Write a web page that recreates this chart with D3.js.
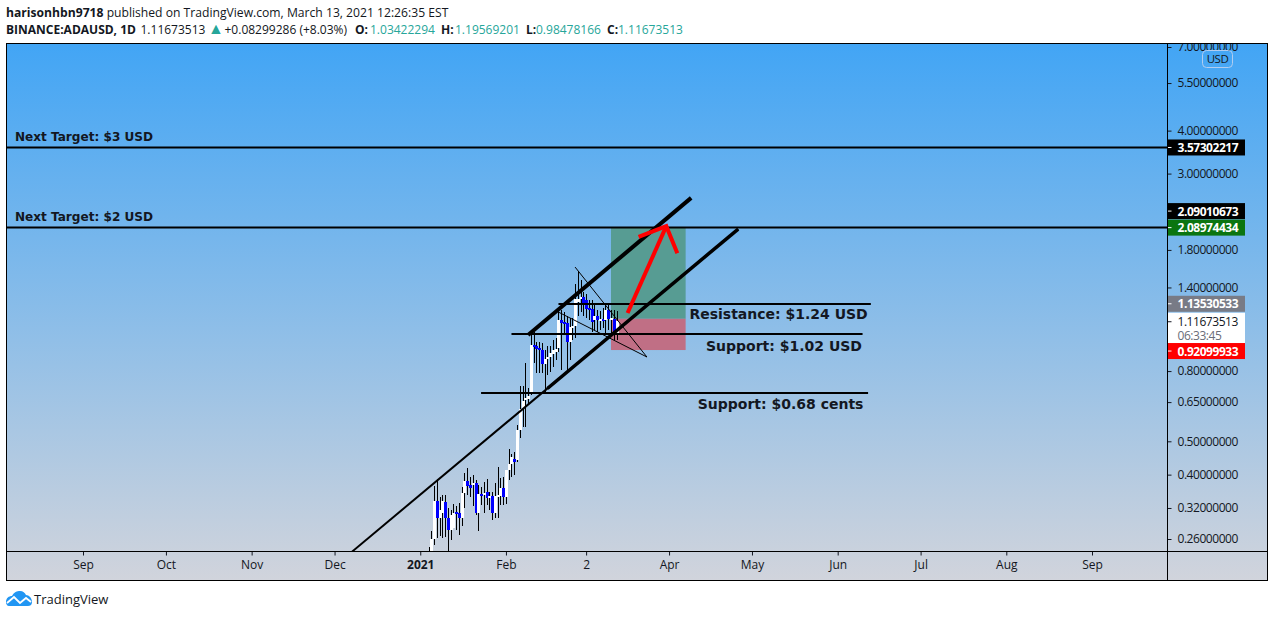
<!DOCTYPE html>
<html>
<head>
<title>ADAUSD</title>
<style>
body { margin: 0; background: #fff; font-family: 'Open Sans', sans-serif; }
svg { display: block; }
.tick text { font-family: 'Open Sans', sans-serif; font-size: 12px; fill: #131722; }
.price, .price .tick text { letter-spacing: -0.45px; }
.note { font-family: 'DejaVu Sans', sans-serif; font-weight: bold; fill: #131722; }
</style>
</head>
<body>
<svg id="chart" width="1274" height="617"></svg>
<script src="https://d3js.org/d3.v7.min.js"></script>
<script>
// Daily candles, first one is 4 Jan 2021
const firstBar = "2021-01-04";
const barOpen = [.21,.235,.26,.336,.30,.31,.333,.30,.277,.28,.312,.31,.30,.354,.383,.372,.372,.377,.31,.352,.349,.356,.345,.347,.31,.346,.347,.366,.345,.413,.43,.445,.441,.539,.62,.66,.665,.69,.955,.945,.935,.92,.84,.865,.88,.895,.91,.935,1.125,1.11,1.10,.97,1.07,1.08,1.27,1.30,1.31,1.29,1.22,1.215,1.125,1.16,1.12,1.135,1.125,1.20,1.125,1.135,1.03422294];
const barHigh = [.2465,.275,.371,.388,.344,.348,.348,.32,.316,.329,.325,.33,.368,.405,.418,.394,.40,.386,.372,.368,.382,.388,.356,.356,.377,.42,.39,.394,.413,.475,.46,.465,.559,.724,.724,.846,.715,1.026,1.04,.975,.975,.965,.92,.945,.945,.985,1.0,1.2,1.2,1.19,1.16,1.145,1.14,1.43,1.56,1.47,1.358,1.34,1.287,1.287,1.245,1.203,1.195,1.22,1.262,1.245,1.203,1.203,1.19569201];
const barLow = [.2,.22,.25,.262,.265,.262,.2636,.2375,.258,.28,.276,.2665,.2845,.321,.349,.344,.324,.305,.274,.326,.31,.326,.316,.295,.30,.30,.326,.326,.328,.386,.394,.40,.435,.512,.55,.55,.638,.68,.846,.79,.79,.79,.69,.78,.795,.82,.86,.91,.806,1.02,.806,.861,.985,1.0,1.16,1.19,1.16,1.14,1.125,1.039,1.053,1.039,1.053,1.067,1.032,1.053,1.018,.985,.98478166];
const barClose = [.235,.26,.336,.299,.316,.336,.30,.276,.305,.31,.309,.30,.354,.383,.37,.367,.377,.31,.352,.348,.354,.342,.347,.31,.347,.349,.366,.345,.413,.43,.45,.435,.539,.62,.655,.667,.675,.955,.94,.93,.92,.84,.87,.88,.905,.92,.93,1.125,1.10,1.095,.97,1.075,1.085,1.30,1.30,1.31,1.26,1.215,1.21,1.11,1.16,1.125,1.135,1.125,1.20,1.13,1.14,1.034,1.11673513];

// Axis ticks
const priceTicks = [7, 5.5, 4, 3, 1.8, 1.4, 1.11673513, 0.8, 0.65, 0.5, 0.4, 0.32, 0.26];
const timeTicks = ["2020-09-01","2020-10-01","2020-11-01","2020-12-01","2021-01-01","2021-02-01","2021-03-02","2021-04-01","2021-05-01","2021-06-01","2021-07-01","2021-08-01","2021-09-01"];
const timeLabels = ["Sep","Oct","Nov","Dec","2021","Feb","2","Apr","May","Jun","Jul","Aug","Sep"];

// Drawings on the chart: [date, price] pairs and a stroke width
const drawings = [
	{pts: [["2020-07-01",3.57302217],["2021-10-01",3.57302217]], w: 2, c: "#000"},
	{pts: [["2020-07-01",2.08974434],["2021-10-01",2.08974434]], w: 2, c: "#000"},
	{pts: [["2021-02-20",1.253],["2021-06-13",1.253]], w: 2, c: "#000"},
	{pts: [["2021-02-03",1.025],["2021-06-10",1.025]], w: 2, c: "#000"},
	{pts: [["2021-01-23",0.691],["2021-06-12",0.691]], w: 2, c: "#000"},
	{pts: [["2020-12-07",0.2377],["2021-04-26",2.07]], w: 2, c: "#000"},
	{pts: [["2021-02-16",0.712],["2021-04-26",2.07]], w: 3.5, c: "#000"},
	{pts: [["2021-02-09",1.018],["2021-04-09",2.55]], w: 4, c: "#000"},
	{pts: [["2021-02-20",1.187],["2021-03-24",0.879],["2021-02-26",1.605]], w: 1, c: "#000"},
	{pts: [["2021-03-17",1.18],["2021-03-31",2.11]], w: 4, c: "#f00"},
	{pts: [["2021-03-21",1.963],["2021-03-31",2.11],["2021-04-04",1.76]], w: 4, c: "#f00"}
];

// Long position box
const boxDates = ["2021-03-11","2021-04-07"];
const boxPrices = [2.08974434, 1.13530533, 0.92099933];

// Text notes: left edge date, price at baseline
const notes = [
	{t: "Next Target: $3 USD", d: "2020-08-07", p: 3.74, s: 12.1},
	{t: "Next Target: $2 USD", d: "2020-08-07", p: 2.189, s: 12.1},
	{t: "Resistance: $1.24 USD", d: "2021-04-08", p: 1.13, s: 14},
	{t: "Support: $1.02 USD", d: "2021-04-14", p: 0.914, s: 14},
	{t: "Support: $0.68 cents", d: "2021-04-11", p: 0.622, s: 14}
];

// Price labels on the right scale. nudge = moved by the collision logic
const labelPrices = [3.57302217, 2.09010673, 2.08974434, 1.13530533, 0.92099933];
const labelFill = ["#000", "#000", "#0b7510", "#787b86", "#f00"];
const labelNudge = [0, -16.5, 0, -15, 1];

const paneLeft = 6.5, paneRight = 1167.5, outerRight = 1267.5, paneTop = 43.5, paneBottom = 551.5, outerBottom = 580.5;

const svg = d3.select("#chart");
const parse = d3.utcParse("%Y-%m-%d");

const x = d3.scaleUtc().domain([parse("2020-09-01"), parse("2021-09-01")]).range([83, 1092]);
const y = d3.scaleLog().domain([7, 0.26]).range([47, 539]);

// background
const defs = svg.append("defs");
const grad = defs.append("linearGradient")
	.attr("id", "bg").attr("x1", 0).attr("x2", 0).attr("y1", 0).attr("y2", 1);
grad.append("stop").attr("offset", "0%").attr("stop-color", "#42a5f5");
grad.append("stop").attr("offset", "100%").attr("stop-color", "#d1d4dc");

defs.append("clipPath").attr("id", "pane")
	.append("rect").attr("x", paneLeft).attr("y", paneTop).attr("width", paneRight - paneLeft).attr("height", paneBottom - paneTop);
defs.append("clipPath").attr("id", "scale")
	.append("rect").attr("x", paneRight).attr("y", paneTop).attr("width", outerRight - paneRight).attr("height", outerBottom - paneTop);

svg.append("rect").attr("x", paneLeft).attr("y", paneTop)
	.attr("width", outerRight - paneLeft).attr("height", outerBottom - paneTop)
	.attr("fill", "url(#bg)");

const pane = svg.append("g").attr("clip-path", "url(#pane)");

// long position box
const bx = x(parse(boxDates[0])), bw = x(parse(boxDates[1])) - bx;
pane.append("rect").attr("x", bx).attr("width", bw)
	.attr("y", y(boxPrices[0])).attr("height", y(boxPrices[1]) - y(boxPrices[0]))
	.attr("fill", "#579c93");
pane.append("rect").attr("x", bx).attr("width", bw)
	.attr("y", y(boxPrices[1])).attr("height", y(boxPrices[2]) - y(boxPrices[1]))
	.attr("fill", "#c06f85");

// candles
const bars = barOpen.map(function(o, i) {
	return {date: d3.utcDay.offset(parse(firstBar), i), o: o, h: barHigh[i], l: barLow[i], c: barClose[i]};
});
const candle = pane.selectAll("g.bar").data(bars).enter().append("g").attr("class", "bar");
candle.append("line")
	.attr("x1", function(d) { return Math.round(x(d.date)) + 0.5; })
	.attr("x2", function(d) { return Math.round(x(d.date)) + 0.5; })
	.attr("y1", function(d) { return y(d.h); })
	.attr("y2", function(d) { return y(d.l); })
	.attr("stroke", "#000").attr("shape-rendering", "crispEdges");
candle.append("rect")
	.attr("x", function(d) { return Math.round(x(d.date)) - 1; })
	.attr("width", 3)
	.attr("y", function(d) { return y(Math.max(d.o, d.c)); })
	.attr("height", function(d) { return Math.max(2, Math.abs(y(d.o) - y(d.c))); })
	.attr("fill", function(d) { return d.c >= d.o ? "#fff" : "#0000ff"; })
	.attr("shape-rendering", "crispEdges");

// trend lines etc
const line = d3.line()
	.x(function(d) { return x(parse(d[0])); })
	.y(function(d) { return y(d[1]); });
pane.selectAll("path.draw").data(drawings).enter().append("path")
	.attr("class", "draw")
	.attr("d", function(d) { return line(d.pts); })
	.attr("fill", "none")
	.attr("stroke", function(d) { return d.c; })
	.attr("stroke-width", function(d) { return d.w; });

// notes
pane.selectAll("text.note").data(notes).enter().append("text")
	.attr("class", "note")
	.attr("x", function(d) { return x(parse(d.d)) + 1; })
	.attr("y", function(d) { return y(d.p); })
	.attr("font-size", function(d) { return d.s; })
	.text(function(d) { return d.t; });

// price scale
const scale = svg.append("g").attr("class", "price").attr("clip-path", "url(#scale)");
const yAxis = d3.axisRight(y).tickValues(priceTicks).tickSize(4).tickPadding(6)
	.tickFormat(function(d) { return d.toFixed(8); });
// current price box goes under the tick of its own label
const cur = barClose[barClose.length - 1];
scale.append("rect").attr("x", paneRight + 0.5).attr("y", y(cur) - 8.5).attr("width", 77).attr("height", 31).attr("fill", "#fff");
scale.append("g").attr("transform", "translate(" + paneRight + ",0)").call(yAxis)
	.call(function(g) { g.select(".domain").remove(); })
	.call(function(g) { g.selectAll(".tick line").attr("stroke", "#131722"); });
scale.append("text").attr("x", paneRight + 10).attr("y", y(cur) + 18.5).attr("font-size", 12).attr("fill", "#6a6d78").text("06:33:45");

// coloured price labels
const labels = scale.selectAll("g.lab").data(labelPrices).enter().append("g").attr("class", "lab")
	.attr("transform", function(d, i) { return "translate(" + paneRight + "," + (y(d) + labelNudge[i]) + ")"; });
labels.append("rect").attr("x", 0.5).attr("y", -8).attr("width", 77).attr("height", 16)
	.attr("fill", function(d, i) { return labelFill[i]; });
labels.append("line").attr("x1", 0.5).attr("x2", 4).attr("stroke", "#fff");
labels.append("text").attr("x", 10).attr("y", 4.5)
	.attr("font-size", 12).attr("font-weight", "bold").attr("fill", "#fff")
	.text(function(d) { return d.toFixed(8); });

// USD button
scale.append("rect").attr("x", 1202.5).attr("y", 50.5).attr("width", 30).attr("height", 17).attr("rx", 4)
	.attr("fill", "none").attr("stroke", "#b2cdf0");
scale.append("text").attr("x", 1217.5).attr("y", 63).attr("text-anchor", "middle")
	.attr("font-size", 11.5).attr("fill", "#131722").text("USD");

// time scale
const xAxis = d3.axisBottom(x).tickValues(timeTicks.map(parse)).tickSize(4).tickPadding(5)
	.tickFormat(function(d, i) { return timeLabels[i]; });
svg.append("g").attr("transform", "translate(0," + paneBottom + ")").call(xAxis)
	.call(function(g) { g.select(".domain").remove(); })
	.call(function(g) { g.selectAll(".tick line").attr("stroke", "#131722"); })
	.call(function(g) {
		g.selectAll(".tick text").filter(function(d, i) { return timeLabels[i] === "2021"; })
			.attr("font-weight", "bold");
	});

// frame
svg.append("rect").attr("x", paneLeft).attr("y", paneTop).attr("width", outerRight - paneLeft).attr("height", outerBottom - paneTop)
	.attr("fill", "none").attr("stroke", "#000");
svg.append("line").attr("x1", paneRight).attr("x2", paneRight).attr("y1", paneTop).attr("y2", outerBottom).attr("stroke", "#000");
svg.append("line").attr("x1", paneLeft).attr("x2", outerRight).attr("y1", paneBottom).attr("y2", paneBottom).attr("stroke", "#000");

// header
const head1 = svg.append("text").attr("x", 6).attr("y", 17).attr("font-size", 12.15).attr("fill", "#131722");
head1.append("tspan").attr("font-weight", "bold").text("harisonhbn9718");
head1.append("tspan").text(" published on TradingView.com, March 13, 2021 12:26:35 EST");

const teal = "#26a69a";
const head2 = svg.append("text").attr("x", 6).attr("y", 34).attr("font-size", 12).attr("fill", "#131722");
head2.append("tspan").attr("font-weight", "bold").text("BINANCE:ADAUSD, 1D");
head2.append("tspan").attr("x", 140.5).text("1.11673513");
head2.append("tspan").attr("x", 208).attr("fill", teal).attr("font-size", 16).text("▲");
head2.append("tspan").attr("x", 224.5).text("+0.08299286 (+8.03%)");
const ohlc = [["O:", barOpen[68], 355, 370], ["H:", barHigh[68], 441, 455], ["L:", barLow[68], 526, 536], ["C:", barClose[68], 607, 618]];
ohlc.forEach(function(d) {
	head2.append("tspan").attr("x", d[2]).attr("font-weight", "bold").text(d[0]);
	head2.append("tspan").attr("x", d[3]).attr("fill", teal).text(d[1].toFixed(8));
});

// logo
const logo = svg.append("g").attr("transform", "translate(6,590)");
logo.append("path")
	.attr("d", "M0 12 C0 8 3 6 6 6 C8 2 11 1 14 1 C17 1 19 3 20 5 C23 5 26 8 26 12 C26 15 24 16 22 16 L3 16 C1 16 0 14 0 12 Z")
	.attr("fill", "#2196f3");
logo.append("path").attr("d", "M1 13 L8 7 L14 13 L20 8 L25 12")
	.attr("fill", "none").attr("stroke", "#fff").attr("stroke-width", 1.8);
svg.append("text").attr("x", 34).attr("y", 604).attr("font-size", 13).attr("fill", "#131722").text("TradingView");
</script>
</body>
</html>
